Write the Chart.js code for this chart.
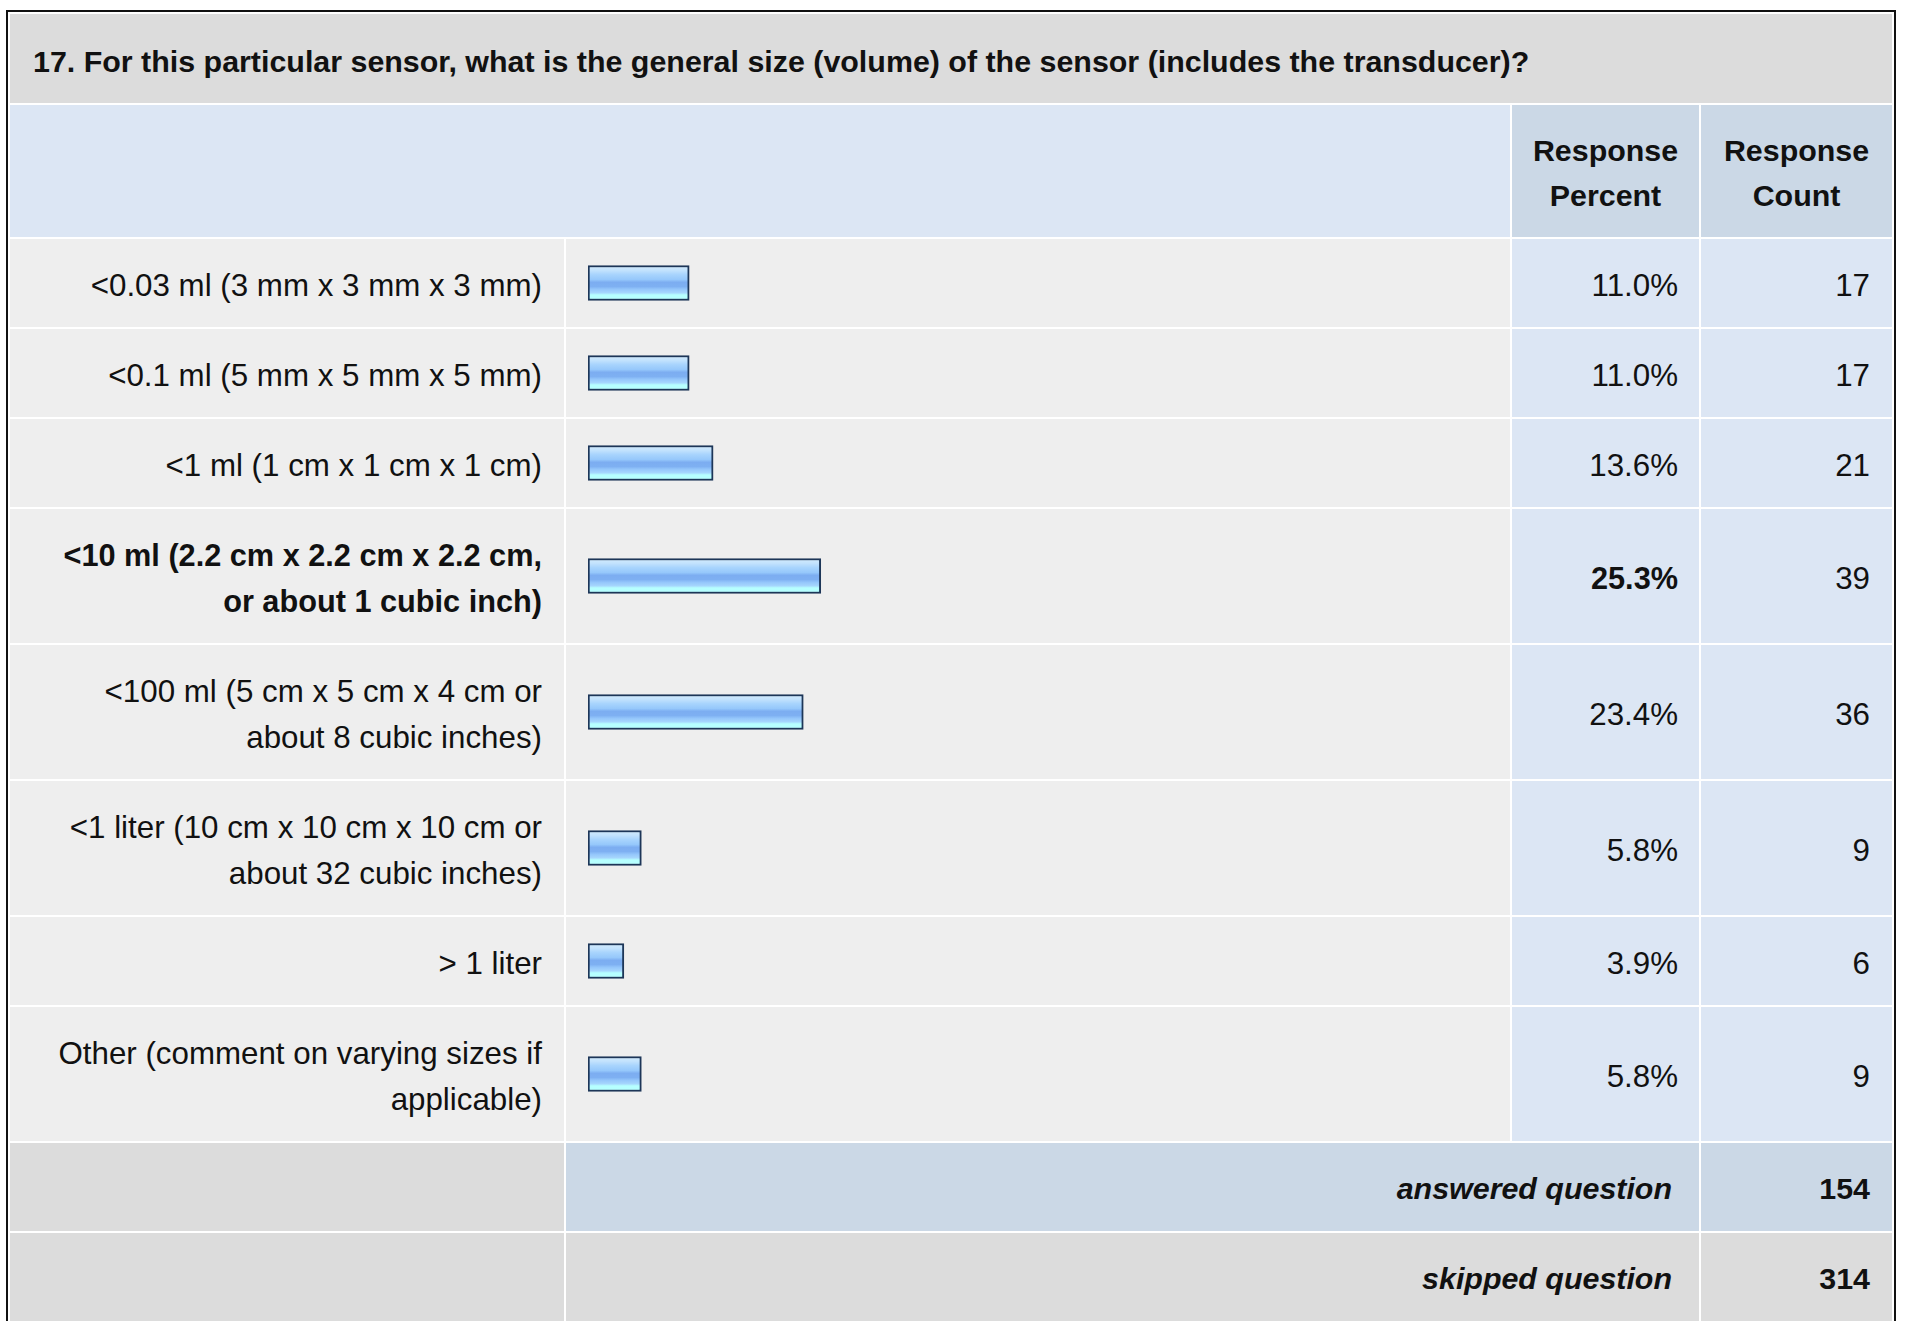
<!DOCTYPE html>
<html>
    <head>
        <meta charset="utf-8">
        <title>Question 17 - sensor size</title>
        <script src="https://cdn.jsdelivr.net/npm/chart.js@4.4.1/dist/chart.umd.min.js"></script>
        <style>
            html, body { margin: 0; padding: 0; background: #fff; overflow: hidden; }
            body { font-family: "Liberation Sans", Arial, sans-serif; color: #111; }

            table.survey {
                position: absolute; left: 6px; top: 10px;
                width: 1890px;
                table-layout: fixed;
                border-collapse: separate;
                border-spacing: 2px;
                border: 2px solid #111;
                background: #fff;
            }
            .survey td { padding: 0 22px; vertical-align: middle; font-size: 31.3px; line-height: 46px; box-sizing: border-box; }
            .survey .title td { background: #dcdcdc; font-weight: bold; font-size: 30.4px; height: 89px; padding-left: 23px; padding-top: 4px; }
            .survey .head td { background: #dce6f4; height: 132px; }
            .survey .head td.colhead { background: #cbd8e6; font-weight: bold; font-size: 30.4px; line-height: 45px; text-align: center; padding: 4px 0 0 0; }
            .survey td.label { background: #eeeeee; text-align: right; padding: 24px 22px 18px 22px; }
            .survey td.bar { background: #eeeeee; position: relative; padding: 0; }
            .survey td.pct, .survey td.cnt { background: #dce6f4; text-align: right; padding-top: 5px; }
            .survey td.pct { padding-right: 21px; }
            .survey .strong { font-weight: bold; font-size: 30.7px; }
            .survey .foot td { background: #dcdcdc; height: 88px; font-weight: bold; font-size: 30.4px; text-align: right; padding-top: 2px; }
            .survey .foot td.italic { font-style: italic; padding-right: 27px; }
            .survey .foot.answered td.blue { background: #cbd8e6; }
            .barbox { position: absolute; left: 22px; right: 2px; top: 0; bottom: 0; }
        </style>
    </head>
    <body>
        <table class="survey" id="survey">
            <colgroup>
                <col style="width:554px">
                <col style="width:944px">
                <col style="width:187px">
                <col style="width:191px">
            </colgroup>
            <tbody id="rows"></tbody>
        </table>

        <script>
            // DATA
            var question = "17. For this particular sensor, what is the general size (volume) of the sensor (includes the transducer)?";
            var headPercent = ["Response", "Percent"];
            var headCount = ["Response", "Count"];

            // one entry per answer, label lines kept as they wrap
            var answerLabels = [
                ["<0.03 ml (3 mm x 3 mm x 3 mm)"],
                ["<0.1 ml (5 mm x 5 mm x 5 mm)"],
                ["<1 ml (1 cm x 1 cm x 1 cm)"],
                ["<10 ml (2.2 cm x 2.2 cm x 2.2 cm,", "or about 1 cubic inch)"],
                ["<100 ml (5 cm x 5 cm x 4 cm or", "about 8 cubic inches)"],
                ["<1 liter (10 cm x 10 cm x 10 cm or", "about 32 cubic inches)"],
                ["> 1 liter"],
                ["Other (comment on varying sizes if", "applicable)"]
            ];
            var responsePercent = [11.0, 11.0, 13.6, 25.3, 23.4, 5.8, 3.9, 5.8];
            var responseCount = [17, 17, 21, 39, 36, 9, 6, 9];

            var answeredQuestion = 154;
            var skippedQuestion = 314;

            // top answer gets bold label + percent
            var topIndex = responsePercent.indexOf(Math.max.apply(null, responsePercent));

            // BUILD TABLE
            var tbody = document.getElementById("rows");
            var html = "";
            html += '<tr class="title"><td colspan="4">' + esc(question) + '</td></tr>';
            html += '<tr class="head"><td colspan="2"></td>'
                 + '<td class="colhead">' + headPercent.join("<br>") + '</td>'
                 + '<td class="colhead">' + headCount.join("<br>") + '</td></tr>';

            for (var i = 0; i < answerLabels.length; i++) {
                var strong = (i === topIndex) ? ' strong' : '';
                html += '<tr>'
                     + '<td class="label' + strong + '">' + answerLabels[i].map(esc).join("<br>") + '</td>'
                     + '<td class="bar"><div class="barbox"><canvas id="bar' + i + '"></canvas></div></td>'
                     + '<td class="pct' + strong + '">' + responsePercent[i].toFixed(1) + '%</td>'
                     + '<td class="cnt">' + responseCount[i] + '</td>'
                     + '</tr>';
            }

            html += '<tr class="foot answered"><td></td><td colspan="2" class="blue italic">answered question</td>'
                 + '<td class="blue">' + answeredQuestion + '</td></tr>';
            html += '<tr class="foot skipped"><td></td><td colspan="2" class="italic">skipped question</td>'
                 + '<td>' + skippedQuestion + '</td></tr>';
            tbody.innerHTML = html;

            function esc(s) {
                return s.replace(/&/g, "&amp;").replace(/</g, "&lt;").replace(/>/g, "&gt;");
            }

            // BAR FILL - glossy blue stripes, built from the bar's own pixel position
            var BAR_H = 35;
            function barFill(context) {
                var chart = context.chart;
                if (!chart.chartArea) return "#8ec0f8";
                var yc = chart.scales.y.getPixelForValue(0);
                var top = yc - BAR_H / 2;
                var g = chart.ctx.createLinearGradient(0, top, 0, top + BAR_H);
                g.addColorStop(0.00, "#d4ecfd");
                g.addColorStop(0.14, "#c2e2fd");
                g.addColorStop(0.26, "#a8d4fd");
                g.addColorStop(0.40, "#96c8fb");
                g.addColorStop(0.48, "#7cadf1");
                g.addColorStop(0.60, "#7eb0f2");
                g.addColorStop(0.68, "#94c6fb");
                g.addColorStop(0.78, "#a6d6fd");
                g.addColorStop(0.84, "#b6ffff");
                g.addColorStop(1.00, "#b6ffff");
                return g;
            }

            // one horizontal bar chart per answer row
            var charts = [];
            for (var j = 0; j < answerLabels.length; j++) {
                charts.push(new Chart("bar" + j, {
                    type: "bar",
                    data: {
                        labels: [answerLabels[j].join(" ")],
                        datasets: [{
                            data: [responsePercent[j]],
                            backgroundColor: barFill,
                            borderColor: "#1d3658",
                            borderWidth: 2,
                            borderSkipped: false,
                            barThickness: BAR_H
                        }]
                    },
                    options: {
                        indexAxis: "y",
                        responsive: true,
                        maintainAspectRatio: false,
                        animation: false,
                        layout: { padding: 0 },
                        plugins: { legend: { display: false }, tooltip: { enabled: false } },
                        scales: {
                            x: { display: false, min: 0, max: 100 },
                            y: { display: false }
                        }
                    }
                }));
            }
        </script>
    </body>
</html>
